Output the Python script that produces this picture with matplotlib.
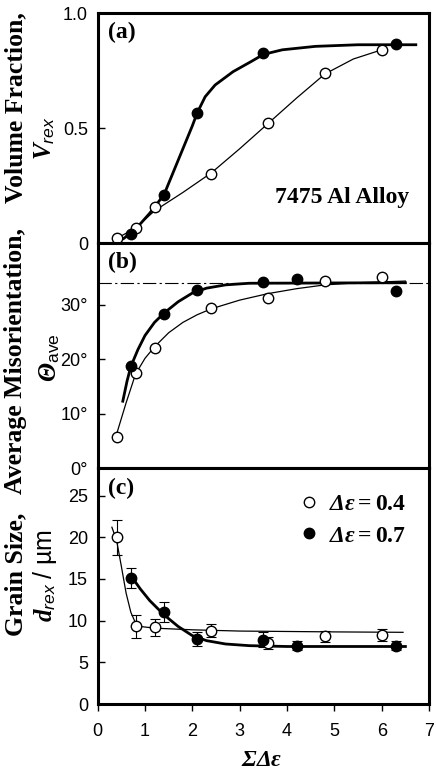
import matplotlib
matplotlib.use('Agg')
import matplotlib.pyplot as plt

plt.rcParams['font.family'] = ['Liberation Sans', 'DejaVu Sans']
plt.rcParams['mathtext.fontset'] = 'custom'
plt.rcParams['mathtext.rm'] = 'Liberation Serif:bold'
plt.rcParams['mathtext.it'] = 'Liberation Serif:italic:bold'
plt.rcParams['mathtext.bf'] = 'Liberation Serif:bold'
plt.rcParams['mathtext.cal'] = 'Liberation Serif:italic:bold'   # italic greek capitals
plt.rcParams['mathtext.sf'] = 'Liberation Sans:italic'
plt.rcParams['mathtext.tt'] = 'Liberation Sans'

# measured points, strain steps 0.4 (open) and 0.7 (filled)
x_04 = [0.4, 0.8, 1.2, 2.4, 3.6, 4.8, 6.0]
x_07 = [0.7, 1.4, 2.1, 3.5, 4.2, 6.3]

vrex_04 = [0.02, 0.065, 0.155, 0.30, 0.52, 0.74, 0.84]
x_07_a = [0.7, 1.4, 2.1, 3.5, 6.3]
vrex_07 = [0.04, 0.21, 0.565, 0.825, 0.865]

theta_04 = [5.8, 17.5, 22.0, 29.5, 31.2, 34.5, 35.2]
theta_07 = [18.7, 28.4, 32.8, 34.3, 34.8, 32.6]
theta_sat = 34.0

d_04 = [20.0, 9.3, 9.2, 8.8, 7.3, 8.1, 8.3]
d_04_err = [2.1, 1.4, 1.0, 0.8, 0.7, 0.7, 0.7]
d_07 = [15.1, 11.0, 7.8, 7.7, 7.0, 7.0]
d_07_err = [1.2, 1.2, 0.8, 0.9, 0.5, 0.5]

# guide curves
fa04_x = [0.4, 0.8, 1.2, 1.8, 2.4, 3.0, 3.6, 4.2, 4.8, 5.4, 6.0]
fa04_y = [0.02, 0.065, 0.14, 0.22, 0.305, 0.41, 0.52, 0.63, 0.735, 0.80, 0.84]
fa07_x = [0.55, 0.8, 1.1, 1.4, 1.6, 1.8, 2.0, 2.1, 2.27, 2.48, 2.86, 3.25, 3.5, 3.9, 4.6, 5.5, 6.72]
fa07_y = [0.02, 0.06, 0.13, 0.21, 0.31, 0.41, 0.51, 0.565, 0.636, 0.687, 0.745, 0.79, 0.82, 0.84, 0.855, 0.862, 0.862]

fb04_x = [0.38, 0.6, 0.8, 1.0, 1.2, 1.5, 1.8, 2.1, 2.4, 3.0, 3.6, 4.2, 4.8, 5.5, 6.5]
fb04_y = [5.7, 12.0, 17.3, 20.2, 22.3, 24.9, 26.8, 28.2, 29.3, 30.9, 32.1, 33.0, 33.7, 34.1, 34.4]
fb07_x = [0.53, 0.62, 0.7, 0.85, 1.0, 1.2, 1.4, 1.7, 2.0, 2.3, 2.7, 3.2, 6.5]
fb07_y = [12.3, 16.0, 18.7, 21.8, 24.4, 26.8, 28.5, 30.6, 32.2, 33.1, 33.7, 34.0, 34.1]

fc04_x = [0.3, 0.4, 0.5, 0.6, 0.7, 0.8, 0.9, 1.2, 2.0, 3.0, 4.0, 5.0, 6.45]
fc04_y = [21.2, 19.6, 16.5, 13.3, 11.0, 9.7, 9.3, 9.1, 8.9, 8.75, 8.7, 8.65, 8.6]
fc07_x = [0.7, 0.9, 1.1, 1.4, 1.7, 2.0, 2.3, 2.7, 3.2, 4.0, 6.5]
fc07_y = [15.4, 13.8, 12.4, 10.7, 9.3, 8.2, 7.6, 7.2, 7.0, 6.9, 6.9]

fig = plt.figure(figsize=(4.36, 7.74), dpi=100)
L, W = 0.2241, 0.760
ax_a = fig.add_axes([L, 0.6860, W, 0.2972])
ax_b = fig.add_axes([L, 0.3953, W, 0.2907])
ax_c = fig.add_axes([L, 0.0904, W, 0.3049])

open_kw = dict(marker='o', ms=7.5, mfc='white', mec='black', mew=1.0, ls='none', zorder=5)
fill_kw = dict(marker='o', ms=7.5, mfc='black', mec='black', ls='none', zorder=5)

for ax in (ax_a, ax_b, ax_c):
    ax.set_xlim(0, 7)
    for s in ax.spines.values():
        s.set_linewidth(2.2)
    ax.tick_params(axis='x', direction='out', length=5, width=1, labelsize=13, pad=9)
    ax.tick_params(axis='y', direction='in', length=5, width=1, labelsize=13, pad=7)
    ax.set_xticks(range(8))

ax_a.tick_params(axis='x', labelbottom=False)
ax_b.tick_params(axis='x', labelbottom=False)

panel_kw = dict(family='Liberation Serif', weight='bold', fontsize=17, va='top')

# (a)
ax_a.plot(fa04_x, fa04_y, color='black', lw=0.9)
ax_a.plot(fa07_x, fa07_y, color='black', lw=2.0)
ax_a.plot(x_04, vrex_04, **open_kw)
ax_a.plot(x_07_a, vrex_07, **fill_kw)
ax_a.set_ylim(0, 1.0)
ax_a.set_yticks([0, 0.5, 1.0])
ax_a.set_yticklabels(['0', '0.5', '1.0'])
ax_a.text(0.03, 0.96, '(a)', transform=ax_a.transAxes, **panel_kw)
ax_a.text(0.94, 0.2, '7475 Al Alloy', transform=ax_a.transAxes, family='Liberation Serif',
          weight='bold', fontsize=17, ha='right', va='center')

# (b)
ax_b.axhline(theta_sat, color='black', lw=0.8, ls=(0, (12, 3, 2, 3)))
ax_b.plot(fb04_x, fb04_y, color='black', lw=0.9)
ax_b.plot(fb07_x, fb07_y, color='black', lw=2.0)
ax_b.plot(x_04, theta_04, **open_kw)
ax_b.plot(x_07, theta_07, **fill_kw)
ax_b.set_ylim(0, 41.4)
ax_b.set_yticks([0, 10, 20, 30])
ax_b.set_yticklabels(['0°', '10°', '20°', '30°'])
ax_b.text(0.03, 0.96, '(b)', transform=ax_b.transAxes, **panel_kw)

# (c)
ax_c.plot(fc04_x, fc04_y, color='black', lw=0.9)
ax_c.plot(fc07_x, fc07_y, color='black', lw=2.0)
ax_c.errorbar(x_04, d_04, yerr=d_04_err, fmt='none', ecolor='black', elinewidth=0.8, capsize=3.5, capthick=0.8, zorder=4)
ax_c.errorbar(x_07, d_07, yerr=d_07_err, fmt='none', ecolor='black', elinewidth=0.8, capsize=3.5, capthick=0.8, zorder=4)
ax_c.plot(x_04, d_04, label=r'$\mathcal{\Delta\varepsilon} = 0.4$', **open_kw)
ax_c.plot(x_07, d_07, label=r'$\mathcal{\Delta\varepsilon} = 0.7$', **fill_kw)
ax_c.set_ylim(0, 28.3)
ax_c.set_yticks([0, 5, 10, 15, 20, 25])
ax_c.text(0.03, 0.96, '(c)', transform=ax_c.transAxes, **panel_kw)
ax_c.legend(loc='upper right', bbox_to_anchor=(0.96, 0.935), frameon=False, fontsize=17,
            handletextpad=0.35, borderaxespad=0, labelspacing=0.42, handlelength=1.0,
            markerscale=1.0)

fig.text(0.601, 3 / 774, r'$\mathcal{\Sigma\Delta\varepsilon}$', ha='center', va='bottom', fontsize=17)

# y labels
lab = dict(rotation=90, ha='center', va='center', family='Liberation Serif', weight='bold', fontsize=18.5)
fig.text(16 / 436, 1 - 108 / 774, 'Volume Fraction,', **lab)
fig.text(16 / 436, 1 - 361 / 774, 'Average Misorientation,', **lab)
fig.text(16 / 436, 1 - 574 / 774, 'Grain Size,', **lab)
fig.text(45 / 436, 1 - 138 / 774, r'$V_{\mathsf{rex}}$', rotation=90, ha='center', va='center', fontsize=18)
fig.text(50 / 436, 1 - 358 / 774, r'$\mathcal{\Theta}_{\mathtt{ave}}$', rotation=90, ha='center', va='center', fontsize=18)
fig.text(45 / 436, 1 - 576 / 774, r'$d_{\mathsf{rex}}\mathtt{\ /\ µm}$', rotation=90, ha='center', va='center', fontsize=18)

fig.savefig('out.png', dpi=100)
